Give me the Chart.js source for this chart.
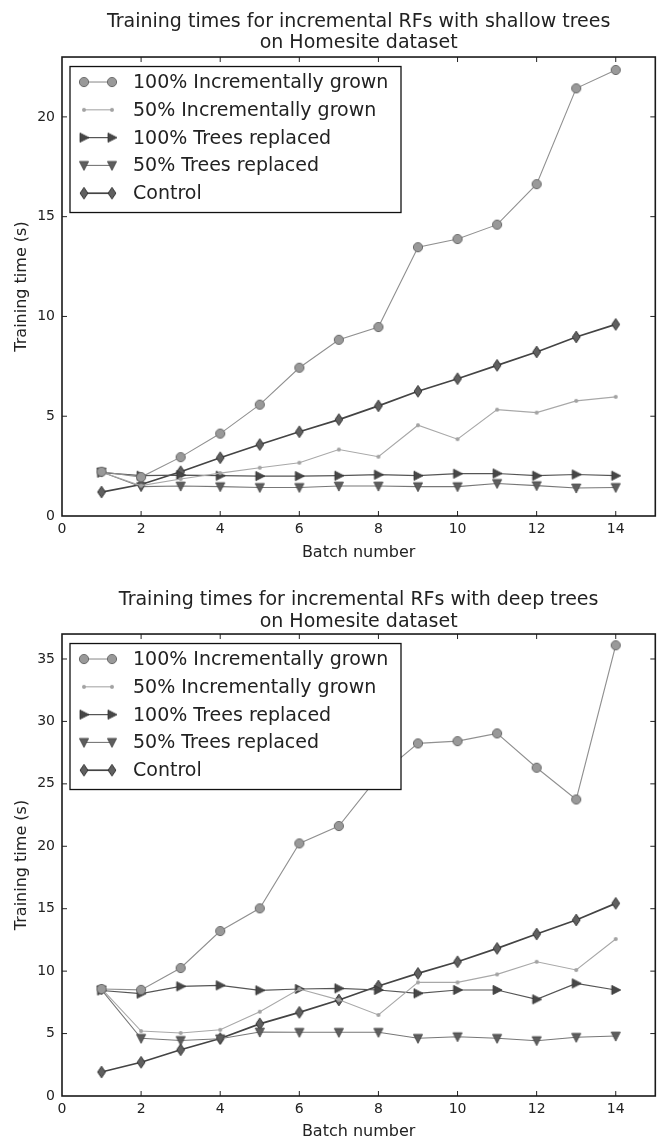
<!DOCTYPE html>
<html><head><meta charset="utf-8">
<script src="https://cdn.jsdelivr.net/npm/chart.js@4.4.1/dist/chart.umd.min.js"></script>
<style>
html,body{margin:0;padding:0;background:#fff;}
#wrap{position:relative;width:662px;height:1146px;}
.box{position:absolute;left:0;width:662px;height:573px;}
</style></head><body>
<div id="wrap">
<div class="box" style="top:0"><canvas id="c1" width="662" height="573"></canvas></div>
<div class="box" style="top:573px"><canvas id="c2" width="662" height="573"></canvas></div>
</div>
<script>
// ---------- data ----------
const batches = [1,2,3,4,5,6,7,8,9,10,11,12,13,14];
const seriesLabels = ['100% Incrementally grown','50% Incrementally grown','100% Trees replaced','50% Trees replaced','Control'];
const xTicks = [0,2,4,6,8,10,12,14];
const yTicksShallow = [0,5,10,15,20];
const yTicksDeep = [0,5,10,15,20,25,30,35];
const titleShallow = ['Training times for incremental RFs with shallow trees','on Homesite dataset'];
const titleDeep = ['Training times for incremental RFs with deep trees','on Homesite dataset'];
const xLabel = 'Batch number';
const yLabel = 'Training time (s)';

const shallowInc100 = [2.22,1.95,2.95,4.13,5.58,7.43,8.83,9.47,13.47,13.88,14.6,16.63,21.43,22.35];
const shallowInc50  = [2.2,1.52,1.85,2.15,2.42,2.67,3.33,2.97,4.55,3.85,5.33,5.18,5.77,5.97];
const shallowRep100 = [2.17,2.02,2.05,2.02,2.0,2.0,2.02,2.07,2.02,2.12,2.13,2.02,2.08,2.02];
const shallowRep50  = [2.2,1.47,1.5,1.47,1.43,1.43,1.5,1.5,1.47,1.47,1.63,1.52,1.4,1.43];
const shallowControl= [1.2,1.58,2.22,2.92,3.58,4.22,4.83,5.52,6.25,6.88,7.55,8.22,8.97,9.6];

const deepInc100 = [8.57,8.5,10.25,13.21,15.03,20.23,21.62,25.6,28.24,28.42,29.04,26.29,23.75,36.1];
const deepInc50  = [8.6,5.2,5.05,5.3,6.75,8.57,7.7,6.49,9.1,9.1,9.74,10.75,10.09,12.57];
const deepRep100 = [8.45,8.2,8.78,8.86,8.46,8.57,8.62,8.49,8.22,8.49,8.49,7.74,9.02,8.49];
const deepRep50  = [8.5,4.62,4.45,4.58,5.12,5.1,5.1,5.1,4.62,4.75,4.62,4.43,4.7,4.8];
const deepControl= [1.92,2.7,3.7,4.6,5.78,6.7,7.69,8.81,9.82,10.75,11.82,12.97,14.1,15.43];

// ---------- styling ----------
const FAMILY = '"DejaVu Sans", sans-serif';
const TXT = '#222';

function mk(size, draw){
  const c = document.createElement('canvas');
  c.width = size; c.height = size;
  const g = c.getContext('2d');
  g.translate(size/2, size/2);
  draw(g);
  return c;
}
const mCircle = mk(14, g => { g.beginPath(); g.arc(0,0,4.6,0,Math.PI*2); g.fillStyle='#999'; g.fill(); g.lineWidth=1; g.strokeStyle='#6a6a6a'; g.stroke(); });
const mDot = mk(8, g => { g.beginPath(); g.arc(0,0,2,0,Math.PI*2); g.fillStyle='#a2a2a2'; g.fill(); });
const mTriRight = mk(14, g => { g.beginPath(); g.moveTo(-4,-4.6); g.lineTo(5,0); g.lineTo(-4,4.6); g.closePath(); g.fillStyle='#474747'; g.fill(); g.lineWidth=0.8; g.strokeStyle='#333'; g.stroke(); });
const mTriDown = mk(14, g => { g.beginPath(); g.moveTo(-4.6,-4); g.lineTo(4.6,-4); g.lineTo(0,5); g.closePath(); g.fillStyle='#5e5e5e'; g.fill(); g.lineWidth=0.8; g.strokeStyle='#444'; g.stroke(); });
const mDiamond = mk(14, g => { g.beginPath(); g.moveTo(0,-5.8); g.lineTo(3.9,0); g.lineTo(0,5.8); g.lineTo(-3.9,0); g.closePath(); g.fillStyle='#606060'; g.fill(); g.lineWidth=1; g.strokeStyle='#333'; g.stroke(); });

const styles = [
  {color:'#909090', width:1.1, marker:mCircle},
  {color:'#a8a8a8', width:1.1, marker:mDot},
  {color:'#555555', width:1.2, marker:mTriRight},
  {color:'#777777', width:1.1, marker:mTriDown},
  {color:'#444444', width:1.7, marker:mDiamond}
];

function buildDatasets(seriesVals){
  return seriesVals.map((vals, i) => ({
    label: seriesLabels[i],
    data: batches.map((b, j) => ({x: b, y: vals[j]})),
    borderColor: styles[i].color,
    backgroundColor: styles[i].color,
    borderWidth: styles[i].width,
    pointStyle: styles[i].marker,
    pointRadius: 5,
    tension: 0,
    fill: false
  }));
}

const legendPlugin = {
  id: 'mplLegend',
  afterDatasetsDraw(chart){
    const ctx = chart.ctx, a = chart.chartArea;
    const bx = a.left + 8, by = a.top + 9.5, bw = 331, bh = 146;
    ctx.save();
    ctx.fillStyle = '#fff';
    ctx.fillRect(bx, by, bw, bh);
    ctx.lineWidth = 1.3; ctx.strokeStyle = '#111';
    ctx.strokeRect(bx, by, bw, bh);
    chart.data.datasets.forEach((ds, i) => {
      const y = by + 15.5 + i * 27.8;
      const x0 = bx + 14, x1 = bx + 42;
      ctx.beginPath(); ctx.moveTo(x0, y); ctx.lineTo(x1, y);
      ctx.lineWidth = ds.borderWidth; ctx.strokeStyle = ds.borderColor; ctx.stroke();
      const m = ds.pointStyle;
      ctx.drawImage(m, x0 - m.width/2, y - m.height/2);
      ctx.drawImage(m, x1 - m.width/2, y - m.height/2);
      ctx.fillStyle = TXT; ctx.font = '19px ' + FAMILY;
      ctx.textBaseline = 'middle'; ctx.textAlign = 'left';
      ctx.fillText(ds.label, bx + 63, y + 1);
    });
    ctx.restore();
  }
};

const framePlugin = {
  id: 'mplFrame',
  afterDraw(chart){
    const ctx = chart.ctx, a = chart.chartArea;
    const xs = chart.scales.x, ys = chart.scales.y;
    const L = 5;
    ctx.save();
    ctx.strokeStyle = '#222'; ctx.lineWidth = 1;
    ctx.beginPath();
    xs.ticks.forEach(t => {
      const p = xs.getPixelForValue(t.value);
      if (p <= a.left + 1 || p >= a.right - 1) return;
      ctx.moveTo(p, a.bottom); ctx.lineTo(p, a.bottom - L);
      ctx.moveTo(p, a.top); ctx.lineTo(p, a.top + L);
    });
    ys.ticks.forEach(t => {
      const p = ys.getPixelForValue(t.value);
      if (p >= a.bottom - 1 || p <= a.top + 1) return;
      ctx.moveTo(a.left, p); ctx.lineTo(a.left + L, p);
      ctx.moveTo(a.right, p); ctx.lineTo(a.right - L, p);
    });
    ctx.stroke();
    ctx.lineWidth = 1.6; ctx.strokeStyle = '#1a1a1a';
    ctx.strokeRect(a.left, a.top, a.right - a.left, a.bottom - a.top);
    ctx.restore();
  }
};

function makeChart(id, cfg){
  return new Chart(document.getElementById(id), {
    type: 'line',
    data: { datasets: buildDatasets(cfg.series) },
    options: {
      responsive: false,
      animation: false,
      events: [],
      layout: { padding: { left: 0, right: 1, top: 0, bottom: 0 } },
      plugins: {
        legend: { display: false },
        tooltip: { enabled: false },
        title: {
          display: true, fullSize: false, text: cfg.title, color: TXT,
          font: { family: FAMILY, size: 19, weight: 'normal', lineHeight: 1.14 },
          padding: { top: cfg.tTop, bottom: cfg.tBot }
        }
      },
      scales: {
        x: {
          type: 'linear', min: 0, max: 15,
          afterBuildTicks: s => { s.ticks = xTicks.map(v => ({ value: v })); },
          afterFit: s => { s.height = cfg.xAxisH; },
          grid: { display: false, drawTicks: false },
          border: { display: false },
          ticks: { color: TXT, font: { family: FAMILY, size: 14 }, padding: 5, maxRotation: 0, autoSkip: false },
          title: { display: true, text: xLabel, color: TXT, font: { family: FAMILY, size: 16 }, padding: { top: 0, bottom: cfg.xtPad } }
        },
        y: {
          type: 'linear', min: 0, max: cfg.ymax,
          afterBuildTicks: s => { s.ticks = cfg.yTicks.map(v => ({ value: v })); },
          afterFit: s => { s.width = 62; },
          grid: { display: false, drawTicks: false },
          border: { display: false },
          ticks: { color: TXT, font: { family: FAMILY, size: 14 }, padding: 7 },
          title: { display: true, text: yLabel, color: TXT, font: { family: FAMILY, size: 16 }, padding: { top: 12.4, bottom: 0 } }
        }
      }
    },
    plugins: [legendPlugin, framePlugin]
  });
}

makeChart('c1', {
  series: [shallowInc100, shallowInc50, shallowRep100, shallowRep50, shallowControl],
  title: titleShallow, tTop: 10.9, tBot: 2.8,
  ymax: 23, yTicks: yTicksShallow, xAxisH: 57, xtPad: 10.7
});
makeChart('c2', {
  series: [deepInc100, deepInc50, deepRep100, deepRep50, deepControl],
  title: titleDeep, tTop: 16.2, tBot: 1.5,
  ymax: 37, yTicks: yTicksDeep, xAxisH: 50, xtPad: 4.4
});
</script>
</body></html>
